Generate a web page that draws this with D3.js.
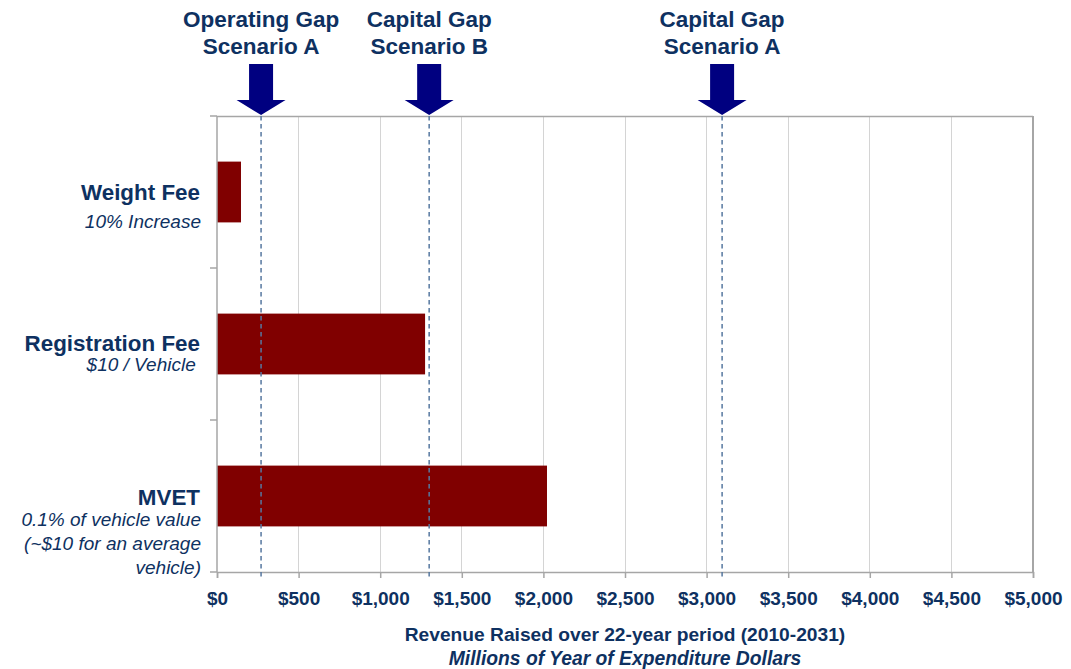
<!DOCTYPE html>
<html>
<head>
<meta charset="utf-8">
<script src="https://cdn.jsdelivr.net/npm/d3@7"></script>
<style>
  html, body { margin: 0; padding: 0; background: #ffffff; }
  svg { display: block; font-family: "Liberation Sans", Arial, sans-serif; }
</style>
</head>
<body>
<svg id="chart" width="1071" height="669"></svg>
<script>
// Revenue options (millions of YOE dollars, 2010-2031)
const categories = ["Weight Fee", "Registration Fee", "MVET"];
const subLabels = [
  ["10% Increase"],
  ["$10 / Vehicle "],
  ["0.1% of vehicle value", "(~$10 for an average", "vehicle)"]
];
const revenue = [147, 1275, 2022];

// Funding gaps marked with arrows
const gapLabels = [["Operating Gap", "Scenario A"], ["Capital Gap", "Scenario B"], ["Capital Gap", "Scenario A"]];
const gapValues = [270, 1300, 3095];

const xTicks = [0, 500, 1000, 1500, 2000, 2500, 3000, 3500, 4000, 4500, 5000];
const axisTitle = "Revenue Raised over 22-year period (2010-2031)";
const axisSubtitle = "Millions of Year of Expenditure Dollars";

const W = 1071, H = 669;
const margin = { top: 116, right: 38, bottom: 97, left: 217 };
const iw = W - margin.left - margin.right;
const ih = H - margin.top - margin.bottom;

const navy = "#0e3161";
const gridColor = "#d4d4d4";
const axisColor = "#a6a6a6";

const svg = d3.select("#chart");
const g = svg.append("g").attr("transform", `translate(${margin.left},${margin.top})`);

const x = d3.scaleLinear().domain([0, 5000]).range([0, iw]);
const y = d3.scaleBand().domain(categories).range([0, ih]).paddingInner(0.6).paddingOuter(0.3);
const yOuter = d3.scaleBand().domain(categories).range([0, ih]).padding(0);

// vertical gridlines
g.append("g").selectAll("line").data(xTicks.slice(1)).join("line")
  .attr("x1", d => x(d)).attr("x2", d => x(d))
  .attr("y1", 0).attr("y2", ih)
  .attr("stroke", d => d === 5000 ? axisColor : gridColor)
  .attr("stroke-width", d => d === 5000 ? 1.5 : 1)
  .attr("shape-rendering", "crispEdges");

// top border
g.append("line").attr("x1", 0).attr("x2", iw).attr("y1", 0.5).attr("y2", 0.5)
  .attr("stroke", axisColor).attr("stroke-width", 1.5);

// bars
g.append("g").selectAll("rect").data(categories).join("rect")
  .attr("x", 0)
  .attr("y", d => y(d))
  .attr("width", (d, i) => x(revenue[i]))
  .attr("height", y.bandwidth())
  .attr("fill", "#800000");

// x axis
const xAxis = d3.axisBottom(x).tickValues(xTicks).tickSize(6).tickPadding(14)
  .tickFormat(d => "$" + d3.format(",")(d));
const xg = g.append("g").attr("transform", `translate(0,${ih})`).call(xAxis);
xg.select(".domain").attr("stroke", axisColor).attr("stroke-width", 1.5);
xg.selectAll(".tick line").attr("stroke", axisColor).attr("stroke-width", 1.5);
xg.selectAll(".tick text")
  .attr("fill", navy).attr("font-size", 19).attr("font-weight", "bold")
  .attr("font-family", "Liberation Sans, Arial, sans-serif");

// y axis: line with ticks at the category boundaries
const yBounds = categories.map(c => yOuter(c)).concat([ih]);
g.append("line").attr("x1", 0).attr("x2", 0).attr("y1", 0).attr("y2", ih)
  .attr("stroke", axisColor).attr("stroke-width", 1.5);
g.append("g").selectAll("line").data(yBounds).join("line")
  .attr("x1", -7).attr("x2", 0).attr("y1", d => d).attr("y2", d => d)
  .attr("stroke", axisColor).attr("stroke-width", 1.5);

// dashed gap lines
g.append("g").selectAll("line").data(gapValues).join("line")
  .attr("x1", d => x(d)).attr("x2", d => x(d))
  .attr("y1", 0).attr("y2", ih + 5)
  .attr("stroke", "#5678a0").attr("stroke-width", 1.5)
  .attr("stroke-dasharray", "4.5,3.5");

// category labels
const labels = g.append("g").selectAll("g").data(categories).join("g")
  .attr("transform", d => `translate(-17,${yOuter(d)})`);
labels.append("text")
  .attr("text-anchor", "end")
  .attr("y", (d, i) => [84, 83, 85][i])
  .attr("fill", navy).attr("font-size", 22.4).attr("font-weight", "bold")
  .text(d => d);
labels.each(function (d, i) {
  const sel = d3.select(this);
  const startY = [112, 103, 106][i];
  subLabels[i].forEach((line, k) => {
    sel.append("text")
      .attr("text-anchor", "end")
      .attr("x", 1)
      .attr("y", startY + k * 24)
      .attr("fill", navy).attr("font-size", 19).attr("font-style", "italic")
      .style("white-space", "pre")
      .text(line);
  });
});

// arrows and their labels above the plot
const arrows = svg.append("g").selectAll("g").data(gapValues).join("g")
  .attr("transform", d => `translate(${margin.left + x(d)},0)`);
arrows.append("path")
  .attr("d", "M-12,64 L12,64 L12,100 L24.5,100 L0,115 L-24.5,100 L-12,100 Z")
  .attr("fill", "#000080");
arrows.each(function (d, i) {
  const sel = d3.select(this);
  gapLabels[i].forEach((line, k) => {
    sel.append("text")
      .attr("text-anchor", "middle")
      .attr("y", 27 + k * 27)
      .attr("fill", navy).attr("font-size", 22.5).attr("font-weight", "bold")
      .text(line);
  });
});

// axis titles
svg.append("text")
  .attr("x", margin.left + iw / 2).attr("y", 641)
  .attr("text-anchor", "middle")
  .attr("fill", navy).attr("font-size", 19.2).attr("font-weight", "bold")
  .text(axisTitle);
svg.append("text")
  .attr("x", margin.left + iw / 2).attr("y", 665)
  .attr("text-anchor", "middle")
  .attr("fill", navy).attr("font-size", 19.3).attr("font-weight", "bold").attr("font-style", "italic")
  .text(axisSubtitle);
</script>
</body>
</html>
